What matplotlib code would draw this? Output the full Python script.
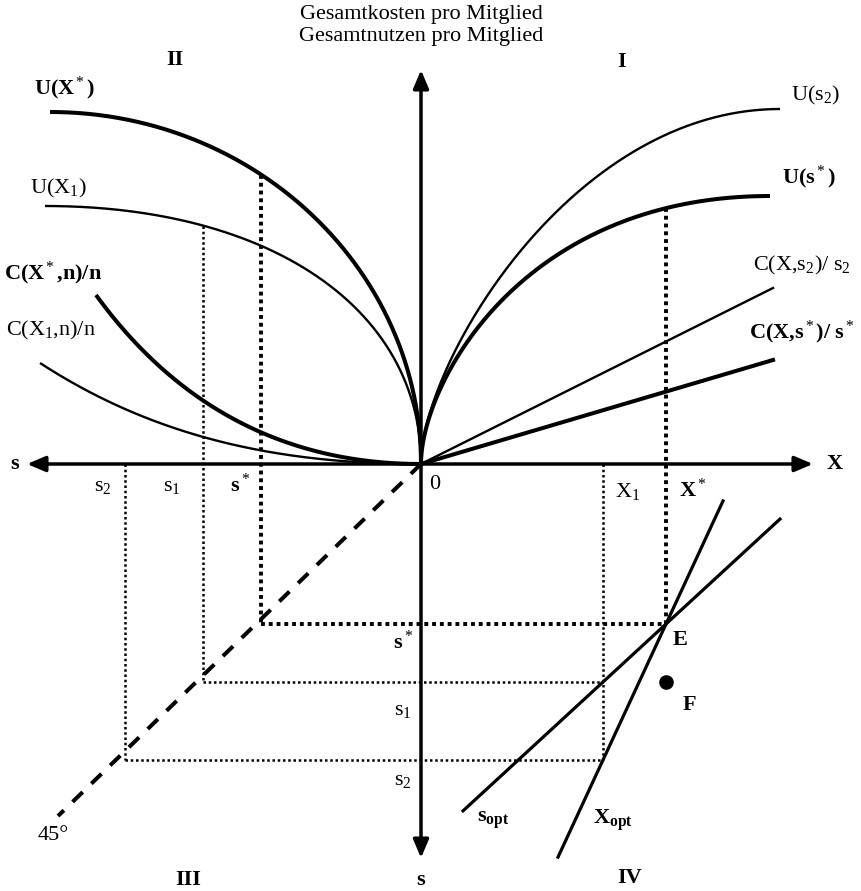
import numpy as np
import matplotlib.pyplot as plt

plt.rcParams['font.family'] = ['Liberation Serif', 'DejaVu Serif']
plt.rcParams['mathtext.fontset'] = 'custom'
plt.rcParams['mathtext.rm'] = 'Liberation Serif'
plt.rcParams['mathtext.bf'] = 'Liberation Serif:bold'
plt.rcParams['mathtext.it'] = 'Liberation Serif:italic'

# Werte auf den Achsen (Ursprung = 0)
X1, X_stern = 182, 245
s_stern, s1, s2 = 160, 218, 296
achse = 394

# Bezierkurven ab dem Ursprung: zwei Kontrollpunkte + Endpunkt
U_s2 = [(0, 100), (150, 355), (359, 355)]
U_s_stern = [(0, 80), (100, 268), (349, 268)]
U_X_stern = [(0, 194), (-166, 352), (-371, 352)]
U_X1 = [(0, 155), (-150, 258), (-376, 258)]
C_X_stern = [(-120, 0), (-235, 45), (-325, 169)]
C_X1 = [(-150, 0), (-271, 29.5), (-381, 101)]
# Geraden C(X,s)/s (Endpunkte)
C_s2 = (352, 176)
C_s_stern = (352, 104)
# Quadrant IV: x-Bereich der Geraden
s_opt_x = [42, 359]
X_opt_x = [137, 302]
F = (X_stern, -s1)


def bezier(punkte, n=300):
    p1, p2, p3 = [np.array(p, float) for p in punkte]
    t = np.linspace(0, 1, n)[:, None]
    b = 3 * (1 - t) ** 2 * t * p1 + 3 * (1 - t) * t ** 2 * p2 + t ** 3 * p3
    return b[:, 0], b[:, 1]


def hoehe(punkte, x):
    bx, by = bezier(punkte, 2000)
    return np.interp(abs(x), np.abs(bx), by)


fig = plt.figure(figsize=(8.62, 8.91), dpi=100)
ax = fig.add_axes([0, 0, 1, 1])
ax.set_xlim(-421, 441)
ax.set_ylim(-427, 464)
ax.set_axis_off()

dick, duenn = 2.9, 1.7
punkt_dick = dict(color='k', lw=2.8, ls=(0, (1, 1)), zorder=1)
punkt_duenn = dict(color='k', lw=1.8, ls=(0, (1, 1.1)), zorder=1)

# Achsen
pfeil = dict(arrowstyle='<|-|>,head_length=0.85,head_width=0.36', lw=2.5, color='k',
             shrinkA=0, shrinkB=0, mutation_scale=13)
ax.annotate('', xy=(achse - 2, 0), xytext=(-achse, 0), arrowprops=pfeil, zorder=5)
ax.annotate('', xy=(0, achse), xytext=(0, -achse), arrowprops=pfeil, zorder=5)

# Kurven
for kurve, lw in [(U_s2, duenn), (U_s_stern, dick), (U_X_stern, dick), (U_X1, duenn),
                  (C_X_stern, dick), (C_X1, duenn)]:
    bx, by = bezier(kurve)
    ax.plot(bx, by, color='k', lw=lw, solid_capstyle='butt', zorder=3)
ax.plot([0, C_s2[0]], [0, C_s2[1]], color='k', lw=duenn, zorder=3)
ax.plot([0, C_s_stern[0]], [0, C_s_stern[1]], color='k', lw=dick, zorder=3)

# 45°-Linie
ax.plot([0, -363], [0, -352], color='k', lw=2.9, ls=(0, (3.5, 3)), zorder=2)

# Hilfslinien
ax.plot([X_stern, X_stern], [hoehe(U_s_stern, X_stern), -s_stern], **punkt_dick)
ax.plot([-s_stern, -s_stern], [hoehe(U_X_stern, -s_stern), -s_stern], **punkt_dick)
ax.plot([-s_stern, X_stern], [-s_stern, -s_stern], **punkt_dick)
ax.plot([-s1, -s1], [hoehe(U_X1, -s1), -s1], **punkt_duenn)
ax.plot([-s1, X1], [-s1, -s1], **punkt_duenn)
ax.plot([-s2, -s2], [0, -s2], **punkt_duenn)
ax.plot([-s2, X1], [-s2, -s2], **punkt_duenn)
ax.plot([X1, X1], [0, -s2], **punkt_duenn)

# Quadrant IV
m_s = (s1 - s_stern) / (X_stern - X1)
m_X = (s2 - s_stern) / (X_stern - X1)
xs = np.array(s_opt_x, float)
ax.plot(xs, -s_stern + m_s * (xs - X_stern), color='k', lw=2.3, zorder=3)
xx = np.array(X_opt_x, float)
ax.plot(xx, -s_stern + m_X * (xx - X_stern), color='k', lw=2.3, zorder=3)
ax.plot(*F, 'o', color='k', ms=9.5, zorder=4)

fs = 16
t = dict(ha='center', va='center', fontsize=fs)
b = dict(ha='center', va='center', fontsize=fs, fontweight='bold')
ax.text(0, 449, 'Gesamtkosten pro Mitglied', **t)
ax.text(0, 427, 'Gesamtnutzen pro Mitglied', **t)
ax.text(-246, 404, 'II', **b)
ax.text(201, 402, 'I', **b)
ax.text(-233, -416, 'III', **b)
ax.text(0, -416, 's', **b)
ax.text(209, -414, 'IV', **b)
ax.text(-406, 0, 's', **b)
ax.text(414, 0, 'X', **b)

ax.text(-356, 376, r'U(X$^*$)', **b)
ax.text(-363, 276, r'U(X$_1$)', **t)
ax.text(-368, 191, r'C(X$^*$,n)/n', **b)
ax.text(-370, 134, r'C(X$_1$,n)/n', **t)
ax.text(395, 369, r'U(s$_2$)', **t)
ax.text(388, 287, r'U(s$^*$)', **b)
ax.text(381, 199, r'C(X,s$_2$)/ s$_2$', **t)
ax.text(381, 132, r'C(X,s$^*$)/ s$^*$', **b)

ax.text(-s2 - 22, -23, r's$_2$', **t)
ax.text(-s1 - 31, -23, r's$_1$', **t)
ax.text(-s_stern - 21, -21, r's$^*$', **b)
ax.text(14, -21, '0', **t)
ax.text(X1 + 25, -28, r'X$_1$', **t)
ax.text(X_stern + 27, -26, r'X$^*$', **b)

ax.text(-18, -s_stern - 18, r's$^*$', **b)
ax.text(-18, -s1 - 28, r's$_1$', **t)
ax.text(-18, -s2 - 20, r's$_2$', **t)

ax.text(X_stern + 14, -176, 'E', **b)
ax.text(F[0] + 23, F[1] - 23, 'F', **b)
ax.text(72, -356, r's$_{\mathbf{opt}}$', **b)
ax.text(192, -356, r'X$_{\mathbf{opt}}$', **b)
ax.text(-368, -371, '45°', **t)

fig.savefig('out.png', dpi=100)
